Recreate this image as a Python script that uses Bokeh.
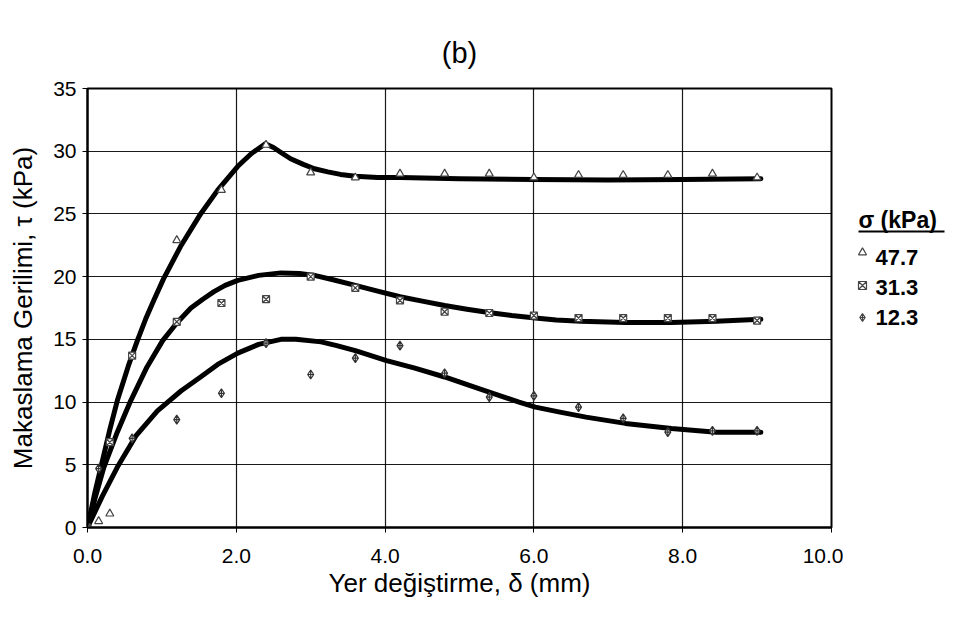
from bokeh.plotting import figure
from bokeh.layouts import row
from bokeh.models import Range1d, FixedTicker, PrintfTickFormatter
from bokeh.embed import file_html
from bokeh.resources import INLINE
from bokeh.core.properties import value

FONT = "Liberation Sans"

# ---- measured points (delta mm, tau kPa) ----
tri_x = [0.0, 0.15, 0.3, 1.2, 1.8, 2.4, 3.0, 3.6, 4.2, 4.8, 5.4, 6.0, 6.6, 7.2, 7.8, 8.4, 9.0]
tri_y = [0.0, 0.5, 1.1, 22.9, 26.9, 30.5, 28.3, 27.9, 28.2, 28.2, 28.2, 27.9, 28.1, 28.1, 28.1, 28.2, 27.9]

sq_x = [0.0, 0.3, 0.6, 1.2, 1.8, 2.4, 3.0, 3.6, 4.2, 4.8, 5.4, 6.0, 6.6, 7.2, 7.8, 8.4, 9.0]
sq_y = [0.0, 6.8, 13.7, 16.4, 17.9, 18.2, 20.0, 19.1, 18.1, 17.2, 17.1, 16.9, 16.7, 16.7, 16.7, 16.7, 16.5]

dia_x = [0.0, 0.15, 0.6, 1.2, 1.8, 2.4, 3.0, 3.6, 4.2, 4.8, 5.4, 6.0, 6.6, 7.2, 7.8, 8.4, 9.0]
dia_y = [0.0, 4.7, 7.1, 8.6, 10.7, 14.7, 12.2, 13.5, 14.5, 12.3, 10.4, 10.5, 9.6, 8.7, 7.6, 7.7, 7.7]

# ---- fitted curves ----
c47_x = [0, 0.1, 0.18, 0.3, 0.4, 0.55, 0.67, 0.78, 0.89, 1.02, 1.25, 1.52, 1.75, 2.02, 2.2, 2.39,
         2.5, 2.6, 2.73, 2.9, 3.05, 3.23, 3.4, 3.6, 3.9, 4.2, 5.0, 6.0, 7.0, 8.0, 9.05]
c47_y = [0, 2.8, 4.8, 7.8, 10.1, 12.9, 14.9, 16.6, 18.1, 19.8, 22.4, 25.0, 26.9, 28.8, 29.8, 30.6,
         30.3, 29.9, 29.4, 28.95, 28.6, 28.35, 28.15, 28.0, 27.9, 27.9, 27.8, 27.75, 27.7, 27.75, 27.8]

c31_x = [0, 0.1, 0.22, 0.4, 0.58, 0.8, 1.01, 1.2, 1.39, 1.55, 1.7, 1.85, 2.02, 2.3, 2.6, 2.85,
         3.05, 3.3, 3.6, 3.9, 4.2, 4.5, 4.8, 5.1, 5.44, 5.7, 6.02, 6.3, 6.63, 7.23, 7.85, 8.45, 9.05]
c31_y = [0, 2.3, 4.8, 7.6, 10.1, 12.8, 14.9, 16.3, 17.5, 18.2, 18.8, 19.3, 19.7, 20.1, 20.3, 20.25,
         20.1, 19.75, 19.3, 18.85, 18.4, 18.05, 17.7, 17.4, 17.1, 16.9, 16.7, 16.55, 16.45, 16.35, 16.35, 16.45, 16.6]

c12_x = [0, 0.2, 0.4, 0.65, 0.94, 1.26, 1.52, 1.75, 2.02, 2.3, 2.6, 2.8, 3.14, 3.35, 3.6, 4.02,
         4.4, 4.8, 5.3, 5.8, 6.02, 6.35, 6.7, 7.23, 7.85, 8.45, 9.05]
c12_y = [0, 2.5, 4.8, 7.3, 9.3, 10.9, 12.0, 13.0, 13.9, 14.6, 15.0, 15.0, 14.8, 14.5, 14.1, 13.3,
         12.7, 12.0, 11.0, 10.0, 9.6, 9.2, 8.8, 8.3, 7.9, 7.6, 7.6]

x_ticks = [0, 2, 4, 6, 8, 10]
y_ticks = [0, 5, 10, 15, 20, 25, 30, 35]

legend_title = "σ (kPa)"
legend_labels = ["47.7", "31.3", "12.3"]
legend_markers = ["triangle", "square_x", "diamond_cross"]

title_text = "(b)"
x_label = "Yer değiştirme, δ (mm)"
y_label = "Makaslama Gerilimi, τ (kPa)"

# page-pixel geometry of the plot frame
FL, FR, FT, FB = 87, 831, 88, 527
H = 616
P_W = 843

# ---- main figure ----
p = figure(width=P_W, height=H, x_range=Range1d(0, 10), y_range=Range1d(0, 35),
           toolbar_location=None, output_backend="svg",
           min_border_left=FL, min_border_right=P_W - FR, min_border_top=FT, min_border_bottom=H - FB)

p.title.text = title_text
p.title.align = "center"
p.title.text_font = FONT
p.title.text_font_size = "29px"
p.title.text_font_style = "normal"
p.title.text_color = "black"
p.title.standoff = 39

p.outline_line_color = "black"
p.outline_line_width = 2
p.background_fill_color = "white"
p.border_fill_color = "white"

p.xaxis.ticker = FixedTicker(ticks=x_ticks)
p.yaxis.ticker = FixedTicker(ticks=y_ticks)
p.xaxis.formatter = PrintfTickFormatter(format="%.1f")
p.xgrid.ticker = FixedTicker(ticks=x_ticks)
p.ygrid.ticker = FixedTicker(ticks=y_ticks)

for ax in (p.xaxis, p.yaxis):
    ax.axis_line_color = "black"
    ax.axis_line_width = 2
    ax.major_tick_line_color = "black"
    ax.major_tick_line_width = 1
    ax.major_tick_in = 0
    ax.major_tick_out = 5
    ax.minor_tick_line_color = None
    ax.major_label_text_font = FONT
    ax.major_label_text_font_size = "21px"
    ax.major_label_text_color = "black"
    ax.axis_label_text_font = FONT
    ax.axis_label_text_font_size = "26px"
    ax.axis_label_text_font_style = "normal"
    ax.axis_label_text_color = "black"

p.xaxis.axis_label = x_label
p.yaxis.axis_label = y_label
p.xaxis.major_label_standoff = 16
p.yaxis.major_label_standoff = 6
p.xaxis.axis_label_standoff = 2
p.yaxis.axis_label_standoff = 12

p.xgrid.grid_line_color = "black"
p.ygrid.grid_line_color = "black"
p.xgrid.grid_line_alpha = 0.9
p.ygrid.grid_line_alpha = 0.9
p.xgrid.grid_line_width = 1.2
p.ygrid.grid_line_width = 1.2

# curves
for cx, cy in ((c47_x, c47_y), (c31_x, c31_y), (c12_x, c12_y)):
    p.line(cx, cy, line_color="black", line_width=5, line_join="round", line_cap="round")

# points
p.scatter(tri_x, tri_y, marker="triangle", size=8, fill_color="white", line_color="#444444", line_width=1.2)
p.scatter(sq_x, sq_y, marker="square_x", size=7, fill_color="white", line_color="#444444", line_width=1.2)
p.scatter(dia_x, dia_y, marker="diamond_cross", size=9, fill_color="white", line_color="#333333", line_width=1.2)

# ---- legend panel (frame aligned with main frame; y in page pixels) ----
LG_W = 102
lg = figure(width=LG_W, height=H, x_range=Range1d(0, LG_W), y_range=Range1d(FB, FT),
            toolbar_location=None, output_backend="svg",
            min_border_left=0, min_border_right=0, min_border_top=FT, min_border_bottom=H - FB)
lg.axis.visible = False
lg.grid.visible = False
lg.outline_line_color = None
lg.background_fill_color = "white"
lg.border_fill_color = "white"

lg.text(x=[15], y=[219], text=[legend_title], text_font=value(FONT), text_font_size="23px",
        text_font_style="bold", text_baseline="middle", text_align="left", text_color="black")
lg.segment(x0=[15], y0=[231], x1=[101], y1=[231], line_color="black", line_width=2)

leg_y = [257, 287, 317]
mark_y = [252, 285, 317]
lg.text(x=[32] * 3, y=leg_y, text=legend_labels, text_font=value(FONT), text_font_size="22px",
        text_font_style="bold", text_baseline="middle", text_align="left", text_color="black")
for m, my in zip(legend_markers, mark_y):
    lg.scatter([19], [my], marker=m, size=8, fill_color="white", line_color="#444444", line_width=1.2)

layout = row(p, lg, spacing=0)
open("out.html", "w").write(file_html(layout, INLINE))
